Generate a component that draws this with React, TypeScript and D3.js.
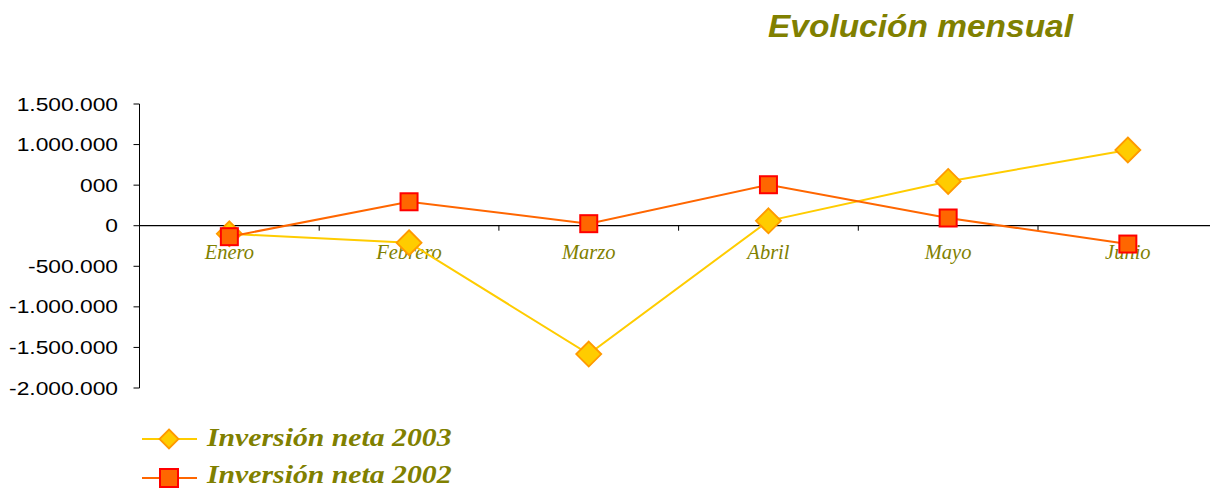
import React from "react";
import * as d3 from "d3";

const months = ["Enero", "Febrero", "Marzo", "Abril", "Mayo", "Junio"];
const inversion2003 = [-100000, -210000, -1582000, 60000, 546000, 933000];
const inversion2002 = [-135000, 295000, 25000, 505000, 95000, -226000];
const yTickValues = [1500000, 1000000, 500000, 0, -500000, -1000000, -1500000, -2000000];
const yTickLabels = ["1.500.000", "1.000.000", "000", "0", "-500.000", "-1.000.000", "-1.500.000", "-2.000.000"];
const seriesNames = ["Inversión neta 2003", "Inversión neta 2002"];

const OLIVE = "#808000";
const Y1 = "#FFCC00";
const Y1S = "#FF9900";
const O2 = "#FF6600";
const O2S = "#FF0000";

export default function App() {
  const left = 139.5;
  const band = 179.7;
  const x = d3.scaleBand<string>().domain(months).range([left, left + band * months.length]);
  const y = d3.scaleLinear().domain([-2000000, 1500000]).range([388, 104]);
  const cx = (m: string) => (x(m) as number) + x.bandwidth() / 2;
  const line = d3
    .line<number>()
    .x((_, i) => cx(months[i]))
    .y((d) => y(d));
  const zeroY = y(0);
  const diamond = (px: number, py: number, r: number) =>
    `M${px},${py - r}L${px + r},${py}L${px},${py + r}L${px - r},${py}Z`;

  return (
    <svg
      width={1210}
      height={488}
      style={{ position: "absolute", left: 0, top: 0, overflow: "hidden", background: "#fff" }}
    >
      <text
        transform="translate(768,37)"
        fontFamily="Liberation Sans, Arial, sans-serif"
        fontWeight="bold"
        fontStyle="italic"
        fontSize={32}
        fill={OLIVE}
        textLength={305}
        lengthAdjust="spacingAndGlyphs"
      >
        Evolución mensual
      </text>

      {/* y axis */}
      <line x1={left} x2={left} y1={y(1500000)} y2={y(-2000000)} stroke="#000" strokeWidth={1} />
      {yTickValues.map((v, i) => (
        <g key={v}>
          <line x1={left - 6} x2={left} y1={y(v)} y2={y(v)} stroke="#000" strokeWidth={1} />
          <text
            transform={`translate(118,${y(v) + 6.5}) scale(1.2,1)`}
            textAnchor="end"
            fontFamily="Liberation Sans, Arial, sans-serif"
            fontSize={19}
            fill="#000"
          >
            {yTickLabels[i]}
          </text>
        </g>
      ))}

      {/* x axis */}
      <line x1={left} x2={left + band * months.length} y1={zeroY} y2={zeroY} stroke="#000" strokeWidth={1.2} />
      {months.slice(1).map((m) => (
        <line key={m} x1={x(m) as number} x2={x(m) as number} y1={zeroY} y2={zeroY + 5} stroke="#000" strokeWidth={1} />
      ))}
      {months.map((m) => (
        <text
          key={m}
          x={cx(m)}
          y={259}
          textAnchor="middle"
          fontFamily="Liberation Serif, Times New Roman, serif"
          fontStyle="italic"
          fontSize={20.5}
          fill={OLIVE}
        >
          {m}
        </text>
      ))}

      {/* series 2003 */}
      <path d={line(inversion2003) || ""} fill="none" stroke={Y1} strokeWidth={2} />
      {inversion2003.map((v, i) => (
        <path key={i} d={diamond(cx(months[i]), y(v), 12.5)} fill={Y1} stroke={Y1S} strokeWidth={1.8} />
      ))}

      {/* series 2002 */}
      <path d={line(inversion2002) || ""} fill="none" stroke={O2} strokeWidth={2} />
      {inversion2002.map((v, i) => (
        <rect key={i} x={cx(months[i]) - 8.5} y={y(v) - 8.5} width={17} height={17} fill={O2} stroke={O2S} strokeWidth={2} />
      ))}

      {/* legend */}
      <g>
        <line x1={142} x2={197} y1={439} y2={439} stroke={Y1} strokeWidth={2} />
        <path d={diamond(169, 439, 9.5)} fill={Y1} stroke={Y1S} strokeWidth={1.8} />
        <text
          transform="translate(207,446) scale(1.19,1)"
          fontFamily="Liberation Serif, Times New Roman, serif"
          fontWeight="bold"
          fontStyle="italic"
          fontSize={25}
          fill={OLIVE}
        >
          {seriesNames[0]}
        </text>
        <line x1={142} x2={197} y1={478} y2={478} stroke={O2} strokeWidth={2} />
        <rect x={160} y={469} width={18} height={18} fill={O2} stroke={O2S} strokeWidth={2} />
        <text
          transform="translate(207,482.5) scale(1.19,1)"
          fontFamily="Liberation Serif, Times New Roman, serif"
          fontWeight="bold"
          fontStyle="italic"
          fontSize={25}
          fill={OLIVE}
        >
          {seriesNames[1]}
        </text>
      </g>
    </svg>
  );
}
